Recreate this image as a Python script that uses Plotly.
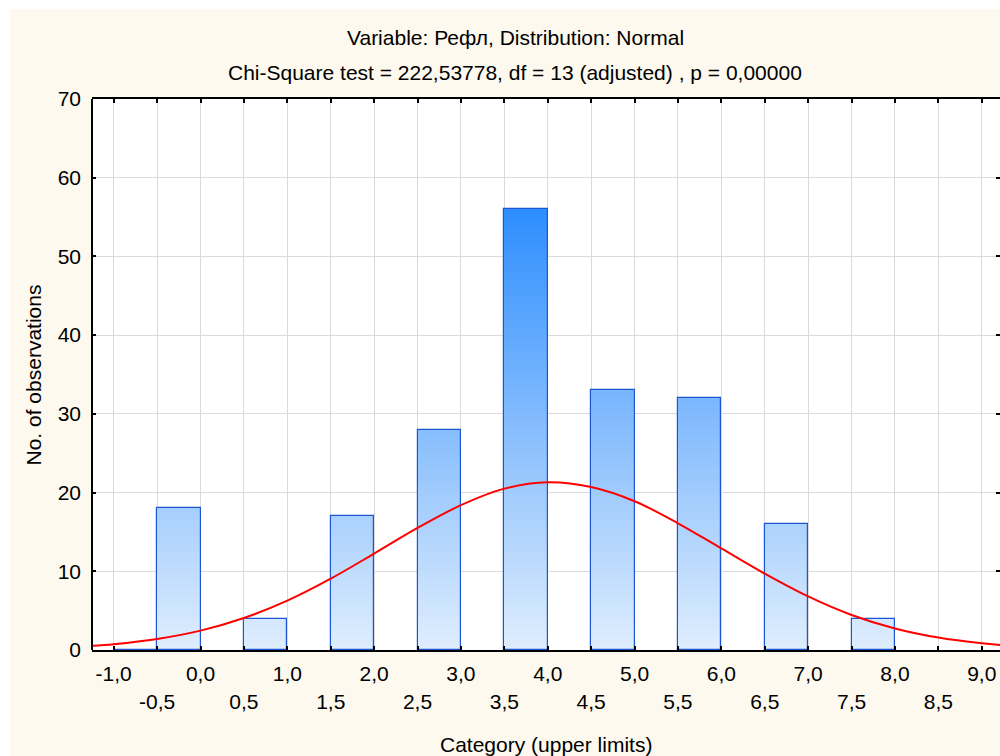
import plotly.graph_objects as go
import numpy as np

# ---- data ----
upper_limits = [-0.5, 0.0, 1.0, 2.0, 3.0, 4.0, 5.0, 6.0, 7.0, 8.0]
counts = [0, 18, 4, 17, 28, 56, 33, 32, 16, 4]
bin_width = 0.5

curve_x = [-1.25, -1.0, -0.5, 0.0, 0.5, 1.0, 1.5, 2.0, 2.5, 3.0, 3.5, 4.0, 4.5,
           5.0, 5.5, 6.0, 6.5, 7.0, 7.5, 8.0, 8.5, 9.0, 9.25]
curve_y = [0.53, 0.74, 1.4, 2.46, 4.06, 6.27, 9.06, 12.25, 15.5, 18.4, 20.5, 21.3, 20.7,
           18.9, 16.1, 12.9, 9.7, 6.8, 4.45, 2.74, 1.58, 0.85, 0.61]

x_major = [-1.0, 0.0, 1.0, 2.0, 3.0, 4.0, 5.0, 6.0, 7.0, 8.0, 9.0]
x_major_text = ["-1,0", "0,0", "1,0", "2,0", "3,0", "4,0", "5,0", "6,0", "7,0", "8,0", "9,0"]
x_minor = [-0.5, 0.5, 1.5, 2.5, 3.5, 4.5, 5.5, 6.5, 7.5, 8.5]
x_minor_text = ["-0,5", "0,5", "1,5", "2,5", "3,5", "4,5", "5,5", "6,5", "7,5", "8,5"]
y_ticks = [0, 10, 20, 30, 40, 50, 60, 70]

title1 = "Variable: Рефл, Distribution: Normal"
title2 = "Chi-Square test = 222,53778, df = 13 (adjusted) , p = 0,00000"
x_title = "Category (upper limits)"
y_title = "No. of observations"

# ---- style ----
FONT = "Liberation Sans, Arial, sans-serif"
FS = 21
CREAM = "#fdf9ef"
LOW = np.array([224, 238, 253])
HIGH = np.array([46, 142, 255])
YMAX_COLOR = 56.0
step = 0.5

centers = [u - bin_width / 2 for u in upper_limits]

fig = go.Figure()

# gradient fill: draw from darkest level downward, each lighter level covering the lower part
vmax = max(counts)
nlev = int(np.ceil(vmax / step))
for k in range(nlev - 1, -1, -1):
    top = (k + 1) * step
    heights = [min(v, top) if v > k * step else 0 for v in counts]
    t = min(1.0, (k + 0.5) * step / YMAX_COLOR)
    c = LOW + (HIGH - LOW) * t
    fig.add_trace(go.Bar(
        x=centers, y=heights, width=bin_width,
        marker=dict(color=f"rgb({int(c[0])},{int(c[1])},{int(c[2])})", line=dict(width=0)),
        showlegend=False, hoverinfo="skip"))

# outline
fig.add_trace(go.Bar(
    x=centers, y=counts, width=bin_width,
    marker=dict(color="rgba(0,0,0,0)", line=dict(color="#1c56d4", width=1.2)),
    showlegend=False))

# fitted normal curve
fig.add_trace(go.Scatter(
    x=curve_x, y=curve_y, mode="lines", line=dict(color="#ff0000", width=2, shape="spline"),
    showlegend=False, xaxis="x2"))

xr = [-1.25, 9.21]
fig.update_layout(
    width=1000, height=756,
    margin=dict(l=92, r=0, t=99, b=106),
    paper_bgcolor=CREAM, plot_bgcolor="white",
    barmode="overlay", bargap=0,
    font=dict(family=FONT, size=FS, color="black"),
    xaxis=dict(
        range=xr, tickmode="array",
        tickvals=sorted(x_major + x_minor),
        ticktext=[x_major_text[x_major.index(v)] if v in x_major else "" for v in sorted(x_major + x_minor)],
        ticks="inside", ticklen=4, tickwidth=2, tickcolor="black",
        showline=True, linewidth=2, linecolor="black", mirror="ticks",
        showgrid=True, gridcolor="#dadada", gridwidth=1, zeroline=False,
        tickfont=dict(size=FS), ticklabelstandoff=4),
    xaxis2=dict(
        range=xr, overlaying="x", anchor="y", side="bottom",
        tickmode="array", tickvals=x_minor, ticktext=x_minor_text,
        ticks="", showline=False, showgrid=False, zeroline=False,
        tickfont=dict(size=FS), ticklabelstandoff=37),
    yaxis=dict(
        range=[0, 70], tickmode="array", tickvals=y_ticks,
        ticks="inside", ticklen=4, tickwidth=2, tickcolor="black",
        showline=False, mirror="ticks",
        showgrid=True, gridcolor="#dadada", gridwidth=1, zeroline=False,
        tickfont=dict(size=FS), ticklabelstandoff=10),
    shapes=[
        dict(type="rect", xref="paper", yref="paper", x0=-0.2, x1=(10 - 92) / 908, y0=-0.3, y1=1.3,
             fillcolor="white", line=dict(width=0), layer="below"),
        dict(type="rect", xref="paper", yref="paper", x0=-0.2, x1=1.2, y0=(650 - 9) / 551, y1=1.3,
             fillcolor="white", line=dict(width=0), layer="below"),
        dict(type="line", xref="paper", yref="paper", x0=0, x1=0, y0=0, y1=1,
             line=dict(color="black", width=2), layer="above"),
    ],
    annotations=[
        dict(text=title1, xref="paper", yref="paper", x=(515 - 92) / 908, y=(650 - 38) / 551,
             xanchor="center", yanchor="middle", showarrow=False, font=dict(size=FS)),
        dict(text=title2, xref="paper", yref="paper", x=(515 - 92) / 908, y=(650 - 73) / 551,
             xanchor="center", yanchor="middle", showarrow=False, font=dict(size=FS)),
        dict(text=x_title, xref="paper", yref="paper", x=0.5, y=(650 - 744) / 551,
             xanchor="center", yanchor="middle", showarrow=False, font=dict(size=FS)),
        dict(text=y_title, xref="paper", yref="paper", x=(33 - 92) / 908, y=0.5, textangle=-90,
             xanchor="center", yanchor="middle", showarrow=False, font=dict(size=FS)),
    ],
)

fig.write_html("out.html")
